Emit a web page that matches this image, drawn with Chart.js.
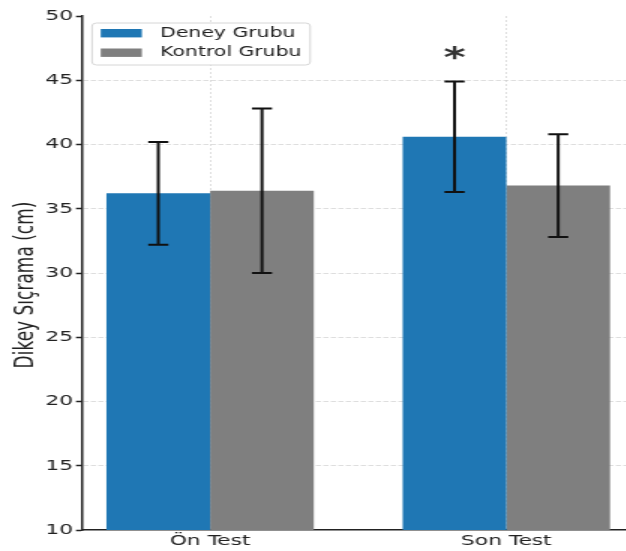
<!DOCTYPE html>
<html>
<head>
<meta charset="utf-8">
<script src="https://cdn.jsdelivr.net/npm/chart.js@4.4.1/dist/chart.umd.min.js"></script>
<style>
  html, body { margin: 0; padding: 0; background: #fff; overflow: hidden; width: 626px; height: 551px; }
  #wrap { position: absolute; left: 0; top: 0; width: 423px; height: 551px; transform: scaleX(1.5); transform-origin: 0 0; }
  canvas { display: block; }
</style>
</head>
<body>
<div id="wrap"><canvas id="c" width="423" height="551"></canvas></div>
<script>
// Dikey sıçrama ortalamaları ve standart sapmaları
const categories = ['Ön Test', 'Son Test'];
const seriesNames = ['Deney Grubu', 'Kontrol Grubu'];
const deneyMeans = [36.2, 40.6];
const deneyErrors = [4.0, 4.3];
const kontrolMeans = [36.4, 36.8];
const kontrolErrors = [6.4, 4.0];
const deneyMarks = ['', '*'];
const kontrolMarks = ['', ''];
const yTicks = [10, 15, 20, 25, 30, 35, 40, 45, 50];
const yTitle = 'Dikey Sıçrama (cm)';

const colors = ['#1f77b4', '#7f7f7f'];
const errors = [deneyErrors, kontrolErrors];
const marks = [deneyMarks, kontrolMarks];
const TEXT = '#222';
const GRID = 'rgba(200,200,200,0.6)';

const toPoints = arr => arr.map((v, i) => ({ x: i, y: v }));

// Hata çubukları, anlamlılık işareti, eksen başlığı ve gösterge
const overlay = {
  id: 'overlay',
  afterDraw(chart) {
    const ctx = chart.ctx;
    const y = chart.scales.y;
    const area = chart.chartArea;

    chart.data.datasets.forEach((ds, di) => {
      const meta = chart.getDatasetMeta(di);
      meta.data.forEach((el, i) => {
        const m = ds.data[i].y;
        const e = errors[di][i];
        const top = y.getPixelForValue(m + e);
        const bot = y.getPixelForValue(m - e);
        ctx.save();
        ctx.strokeStyle = '#111';
        ctx.lineWidth = 2;
        ctx.beginPath();
        ctx.moveTo(el.x, top); ctx.lineTo(el.x, bot);
        ctx.moveTo(el.x - 6.7, top); ctx.lineTo(el.x + 6.7, top);
        ctx.moveTo(el.x - 6.7, bot); ctx.lineTo(el.x + 6.7, bot);
        ctx.stroke();
        if (marks[di][i]) {
          ctx.fillStyle = '#333';
          ctx.font = 'bold 28px "DejaVu Sans"';
          ctx.textAlign = 'center';
          ctx.textBaseline = 'alphabetic';
          ctx.fillText(marks[di][i], el.x, y.getPixelForValue(m + e + 1.1));
        }
        ctx.restore();
      });
    });

    // y ekseni başlığı
    ctx.save();
    ctx.translate(22.2, (area.top + area.bottom) / 2 + 12);
    ctx.rotate(-Math.PI / 2);
    ctx.fillStyle = TEXT;
    ctx.font = '17px "DejaVu Sans"';
    ctx.textAlign = 'center';
    ctx.textBaseline = 'alphabetic';
    ctx.fillText(yTitle, 0, 0);
    ctx.restore();

    // gösterge kutusu
    const bx = area.left + 6.7, by = area.top + 7, bw = 145.4, bh = 42;
    ctx.save();
    ctx.beginPath();
    ctx.roundRect(bx, by, bw, bh, 3);
    ctx.fillStyle = 'rgba(255,255,255,0.9)';
    ctx.fill();
    ctx.strokeStyle = '#d6d6d6';
    ctx.lineWidth = 1;
    ctx.stroke();
    ctx.font = '13.6px "DejaVu Sans"';
    ctx.textBaseline = 'middle';
    ctx.textAlign = 'left';
    seriesNames.forEach((name, i) => {
      const cy = by + 10.2 + i * 19.5;
      ctx.fillStyle = colors[i];
      ctx.fillRect(bx + 5.8, cy - 4.2, 27.4, 8.4);
      ctx.fillStyle = TEXT;
      ctx.fillText(name, bx + 45.4, cy);
    });
    ctx.restore();
  }
};

new Chart(document.getElementById('c'), {
  type: 'bar',
  data: {
    datasets: [
      { label: seriesNames[0], data: toPoints(deneyMeans), backgroundColor: colors[0], borderWidth: 0 },
      { label: seriesNames[1], data: toPoints(kontrolMeans), backgroundColor: colors[1], borderWidth: 0 }
    ]
  },
  options: {
    responsive: false,
    animation: false,
    categoryPercentage: 0.7,
    barPercentage: 1.0,
    layout: { padding: { top: 16, left: 0, right: 0, bottom: 0 } },
    plugins: { legend: { display: false }, tooltip: { enabled: false } },
    scales: {
      x: {
        type: 'linear',
        min: -0.4325,
        max: 1.4325,
        offset: false,
        z: 1,
        afterBuildTicks: s => { s.ticks = categories.map((_, i) => ({ value: i })); },
        afterFit: s => { s.height = 21; },
        ticks: {
          callback: v => categories[v] ?? '',
          font: { family: 'DejaVu Sans', size: 14.5 },
          color: TEXT,
          padding: 3,
          maxRotation: 0
        },
        grid: { offset: false, drawTicks: false, color: GRID, lineWidth: 1 },
        border: { display: true, color: '#222', width: 1.5, dash: [2, 2] }
      },
      y: {
        min: 10,
        max: 50,
        z: 1,
        afterBuildTicks: s => { s.ticks = yTicks.map(v => ({ value: v })); },
        afterFit: s => { s.width = 54.67; },
        ticks: { font: { family: 'DejaVu Sans', size: 14.5 }, color: TEXT, padding: 2 },
        grid: {
          color: c => (c.tick && (c.tick.value === 10 || c.tick.value === 50)) ? 'rgba(0,0,0,0)' : GRID,
          lineWidth: 1,
          tickLength: 4,
          tickColor: '#222',
          tickWidth: 1.5,
          tickBorderDash: [1, 0]
        },
        border: { display: true, color: '#222', width: 1.5, dash: [3.5, 1.5] }
      }
    }
  },
  plugins: [overlay]
});
</script>
</body>
</html>
